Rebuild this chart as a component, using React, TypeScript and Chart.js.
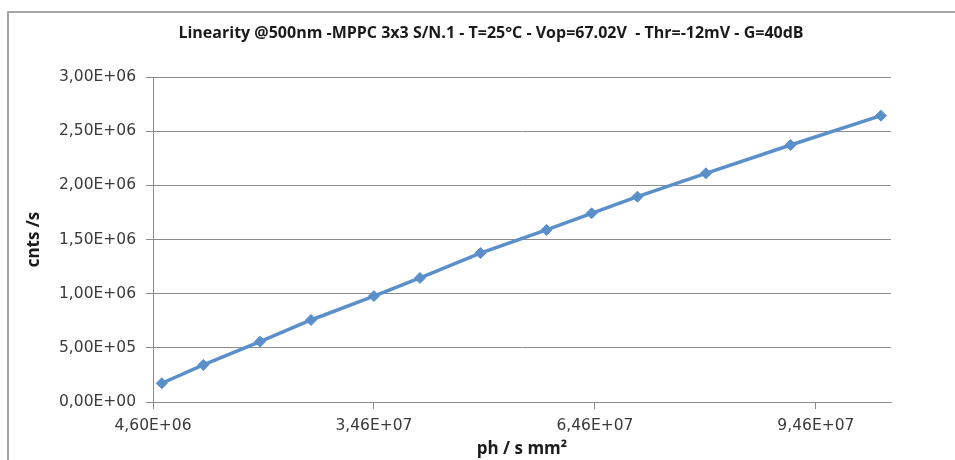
import React, { useEffect, useRef } from "react";
import { Chart, registerables } from "chart.js";

Chart.register(...registerables);

const titleText = "Linearity @500nm -MPPC 3x3 S/N.1 - T=25°C - Vop=67.02V  - Thr=-12mV - G=40dB";
const xAxisTitle = "ph / s mm²";
const yAxisTitle = "cnts /s";

const photonFlux = [
  5.8e6, 1.143e7, 1.913e7, 2.605e7, 3.46e7, 4.085e7, 4.906e7, 5.802e7, 6.415e7, 7.037e7, 7.967e7, 9.117e7, 1.0343e8,
];
const countRate = [
  1.73e5, 3.42e5, 5.57e5, 7.57e5, 9.78e5, 1.145e6, 1.375e6, 1.588e6, 1.742e6, 1.895e6, 2.111e6, 2.372e6, 2.643e6,
];
const xTickValues = [4.6e6, 3.46e7, 6.46e7, 9.46e7];
const xMin = 4.6e6;
const xMax = 1.048e8;
const yMin = 0;
const yMax = 3.0e6;
const yStep = 5.0e5;

function fmtExp(v: number): string {
  const [m, e] = v.toExponential(2).split("e");
  const sign = e[0] === "-" ? "-" : "+";
  const digits = e.replace(/^[+-]/, "").padStart(2, "0");
  return m.replace(".", ",") + "E" + sign + digits;
}

const titlePlugin = {
  id: "customTitle",
  afterDraw(chart: any) {
    const ctx = chart.ctx;
    ctx.save();
    ctx.font = "bold 16px 'Open Sans'";
    ctx.fillStyle = "#1a1a1a";
    ctx.textAlign = "center";
    ctx.textBaseline = "middle";
    ctx.fillText(titleText, 491, 33);
    ctx.restore();
  },
};

export default function App() {
  const ref = useRef<HTMLCanvasElement | null>(null);
  useEffect(() => {
    if (!ref.current) return;
    const grey = "#8c8c8c";
    const tickFont = { family: "DejaVu Sans", size: 15.5 };
    const axisTitleFont = { family: "Open Sans", size: 17, weight: "bold" };
    const chart = new Chart(ref.current, {
      type: "line",
      data: {
        datasets: [
          {
            data: photonFlux.map((x, i) => ({ x, y: countRate[i] })),
            borderColor: "#5a8fca",
            backgroundColor: "#5a8fca",
            borderWidth: 3.5,
            pointStyle: "rectRot",
            pointRadius: 5.5,
            pointBorderWidth: 1,
            tension: 0,
          },
        ],
      },
      options: {
        animation: false,
        responsive: false,
        maintainAspectRatio: false,
        layout: { padding: { top: 77, right: 64, bottom: 0, left: 0 } },
        plugins: { legend: { display: false }, tooltip: { enabled: false }, title: { display: false } },
        scales: {
          x: {
            type: "linear",
            min: xMin,
            max: xMax,
            afterBuildTicks: (scale: any) => {
              scale.ticks = xTickValues.map((value) => ({ value }));
            },
            afterFit: (scale: any) => {
              scale.height = 58;
            },
            ticks: {
              callback: (v: any) => fmtExp(Number(v)),
              font: tickFont,
              color: "#3a3a3a",
              padding: 8,
              maxRotation: 0,
              autoSkip: false,
            },
            grid: { display: true, drawOnChartArea: false, drawTicks: true, tickLength: 7, color: grey },
            border: { display: true, color: grey, width: 1 },
            title: {
              display: true,
              text: xAxisTitle,
              font: axisTitleFont,
              color: "#1a1a1a",
              padding: { top: 1, bottom: 1 },
            },
          },
          y: {
            type: "linear",
            min: yMin,
            max: yMax,
            afterFit: (scale: any) => {
              scale.width = 153;
            },
            ticks: {
              stepSize: yStep,
              callback: (v: any) => fmtExp(Number(v)),
              font: tickFont,
              color: "#3a3a3a",
              padding: 10,
            },
            grid: { display: true, drawOnChartArea: true, drawTicks: true, tickLength: 7, color: grey },
            border: { display: true, color: grey, width: 1 },
            title: {
              display: true,
              text: yAxisTitle,
              font: axisTitleFont,
              color: "#1a1a1a",
              padding: { top: 24, bottom: 24 },
            },
          },
        },
      },
      plugins: [titlePlugin],
    } as any);
    return () => chart.destroy();
  }, []);
  return (
    <div style={{ position: "fixed", left: 0, top: 0, width: 955, height: 460, background: "#fff" }}>
      <div
        style={{
          position: "absolute",
          left: 7,
          top: 11,
          width: 960,
          height: 460,
          borderLeft: "2px solid #a6a6a6",
          borderTop: "2px solid #a6a6a6",
        }}
      />
      <canvas ref={ref} width={955} height={460} style={{ position: "absolute", left: 0, top: 0 }} />
    </div>
  );
}
